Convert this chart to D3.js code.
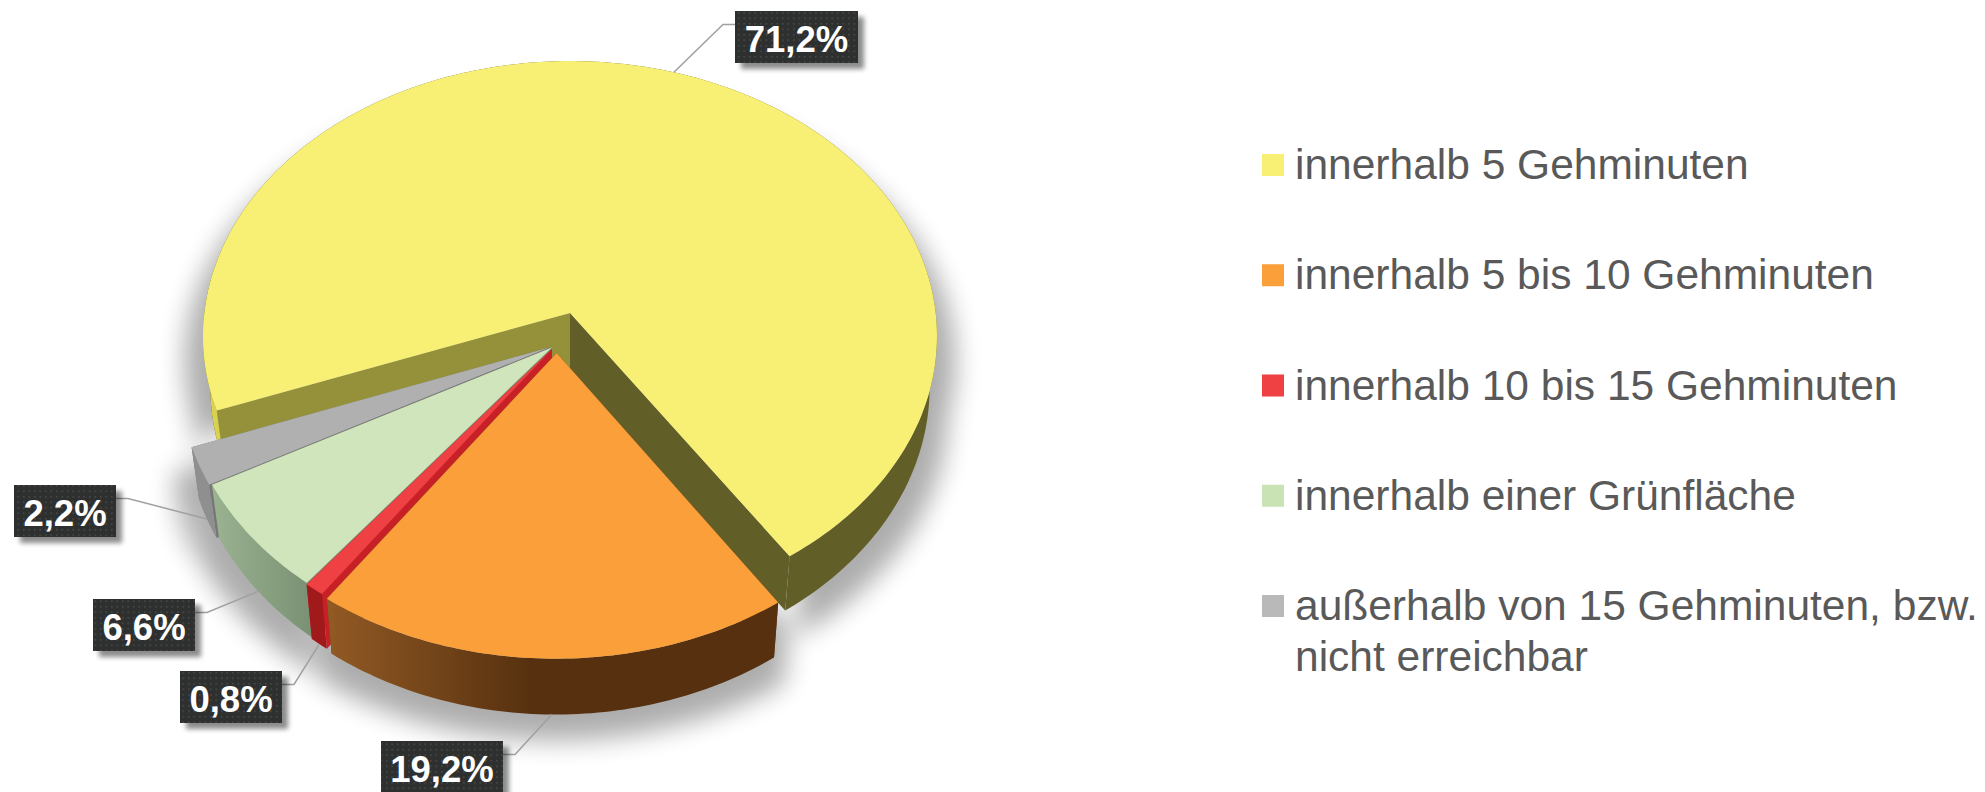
<!DOCTYPE html>
<html>
<head>
<meta charset="utf-8">
<style>
    body { margin: 0; background: #fff; }
    svg { display: block; }
    text { font-family: "Liberation Sans", Arial, sans-serif; }
</style>
<script src="https://cdn.jsdelivr.net/npm/d3@7"></script>
</head>
<body>
<svg id="svg1" width="1985" height="792"></svg>
<script>
// 3d pie of walking distance shares, yellow slice is pulled out

let categories = ["innerhalb 5 Gehminuten", "innerhalb 5 bis 10 Gehminuten", "innerhalb 10 bis 15 Gehminuten",
    "innerhalb einer Grünfläche", "außerhalb von 15 Gehminuten, bzw.|nicht erreichbar"];
let values = [71.2, 19.2, 0.8, 6.6, 2.2];
let valueLabels = ["71,2%", "19,2%", "0,8%", "6,6%", "2,2%"];

let topColors = ["#f8f075", "#fa9f39", "#ef4043", "#d0e5bb", "#b0b0b0"];
let legendColors = ["#f8f075", "#fa9f39", "#ef4043", "#c9e3b5", "#b9b9b9"];
let wallColors = ["#615e28", "url(#orangeWall)", "#a01a1c", "url(#greenWall)", "#8f8f8f"];
let cutColors = ["#615e28", "#6a3d12", "#c72026", "#7b9174", "#777777"];

// how far each slice sits from the yellow slice tip, in pie radius units
let explodeU = [0, -0.036, -0.049, -0.049, -0.056];
let explodeV = [0, -0.145, -0.13, -0.125, -0.125];

// top left of the label boxes
let boxX = [735, 381, 180, 93, 14];
let boxY = [11, 741, 671, 599, 485];

let svg1 = d3.select("#svg1");

// perspective settings, picked to fit the ellipse of the picture
let cx = 570, cy = 313;
let radiusX = 365.7, radiusY = 273;
let tilt = 0.0836;
let depth = 50.5;
let bottomShrink = 0.98;

// point on the unit disc to screen, level 0 is top face and 1 is bottom face
function project(u, v, level)
{
    let d = 1 + tilt * v;
    let sx = 1 - (1 - bottomShrink) * level;
    return [cx + sx * radiusX * u / d, cy - radiusY * v / d + level * depth / d];
}

function rimPoint(slice, angle, level)
{
    return project(Math.sin(angle) + explodeU[slice], Math.cos(angle) + explodeV[slice], level);
}

function tipPoint(slice, level)
{
    return project(explodeU[slice], explodeV[slice], level);
}

let firstAngle = 249.7;
let pieLayout = d3.pie().sort(null)
    .startAngle(firstAngle * Math.PI / 180)
    .endAngle((firstAngle + 360) * Math.PI / 180);
let arcs = pieLayout(values);

let line = d3.line();

function rim(i, level, reverse)
{
    let a = arcs[i];
    let n = Math.max(4, Math.round((a.endAngle - a.startAngle) * 60));
    let pts = d3.range(n + 1).map(function (k) {
        return rimPoint(i, a.startAngle + (a.endAngle - a.startAngle) * k / n, level);
    });
    return reverse ? pts.reverse() : pts;
}

function topPath(i) { return line([tipPoint(i, 0)].concat(rim(i, 0, false))) + "Z"; }
function wallPath(i) { return line(rim(i, 0, false).concat(rim(i, 1, true))) + "Z"; }
function cutPath(i, angle)
{
    // yellow tip goes a bit deeper so no white shows next to the orange edge
    let tipLevel = i == 0 ? 1.25 : 1;
    return line([tipPoint(i, 0), rimPoint(i, angle, 0), rimPoint(i, angle, 1), tipPoint(i, tipLevel)]) + "Z";
}

// defs
let defs = svg1.append("defs");

let pieShadow = defs.append("filter").attr("id", "pieShadow")
    .attr("filterUnits", "userSpaceOnUse")
    .attr("x", 0).attr("y", 0).attr("width", 1200).attr("height", 792);
pieShadow.append("feGaussianBlur").attr("stdDeviation", 13);

let boxShadow = defs.append("filter").attr("id", "boxShadow")
    .attr("x", "-20%").attr("y", "-20%").attr("width", "140%").attr("height", "140%");
boxShadow.append("feGaussianBlur").attr("stdDeviation", 2.5);

let dots = defs.append("pattern").attr("id", "dots")
    .attr("patternUnits", "userSpaceOnUse").attr("width", 5.5).attr("height", 5.5);
dots.append("rect").attr("width", 5.5).attr("height", 5.5).attr("fill", "#2e2f2f");
dots.append("rect").attr("x", 1).attr("y", 1).attr("width", 1.5).attr("height", 1.5).attr("fill", "#4c4d4d");

function wallGradient(id, from, to, stop)
{
    let g = defs.append("linearGradient").attr("id", id);
    g.append("stop").attr("offset", "0%").attr("stop-color", from);
    g.append("stop").attr("offset", stop).attr("stop-color", to);
}
wallGradient("orangeWall", "#925a24", "#57310f", "45%");
wallGradient("greenWall", "#9ab391", "#7a9073", "100%");

// soft shadow under the whole pie, a bit wider than the pie and moved down
let shadowGroup = svg1.append("g")
    .attr("filter", "url(#pieShadow)")
    .attr("opacity", 0.32);
let shadowShape = shadowGroup.append("g")
    .attr("transform", "translate(" + cx + ",26) scale(1.05,1) translate(" + (-cx) + ",0)");
arcs.forEach(function (a, i) {
    shadowShape.append("path").attr("d", topPath(i)).attr("fill", "#000");
    shadowShape.append("path").attr("d", wallPath(i)).attr("fill", "#000");
});

// yellow goes first, the rest are stacked in front of it, orange on top
let drawOrder = [0, 4, 3, 2, 1];

drawOrder.forEach(function (i) {
    let a = arcs[i];
    let g = svg1.append("g");
    // yellow has two different cut faces
    g.append("path").attr("d", cutPath(i, a.startAngle)).attr("fill", i == 0 ? "#95913a" : cutColors[i]);
    g.append("path").attr("d", cutPath(i, a.endAngle)).attr("fill", cutColors[i]);
    g.append("path").attr("d", wallPath(i)).attr("fill", wallColors[i]);
    if(i == 0)
    {
        // left bit of the yellow rim is lit
        let leftBit = [];
        let n = 12;
        for(let k = 0; k <= n; k++)
        {
            leftBit.push(rimPoint(0, a.startAngle + 0.35 * k / n, 0));
        }
        for(let k = n; k >= 0; k--)
        {
            leftBit.push(rimPoint(0, a.startAngle + 0.35 * k / n, 1));
        }
        g.append("path").attr("d", line(leftBit) + "Z").attr("fill", "#d8d24e");
    }
    g.append("path").attr("d", topPath(i)).attr("fill", topColors[i]);
});

// leader lines start at the middle of the slice, on the rim
let leaderSide = [-1, 1, 1, 1, 1];
let boxW = [123, 122, 102, 102, 102];
let boxH = 52;

let labels = svg1.append("g");
arcs.forEach(function (a, i) {
    let mid = (a.startAngle + a.endAngle) / 2;
    let end = rimPoint(i, mid, i == 0 ? 0 : 1);
    let edgeX = leaderSide[i] < 0 ? boxX[i] : boxX[i] + boxW[i];
    let elbowY = boxY[i] + 13.5;
    let elbowX = edgeX + leaderSide[i] * 12;

    labels.append("path")
        .attr("d", line([[edgeX, elbowY], [elbowX, elbowY], end]))
        .attr("fill", "none")
        .attr("stroke", "#a0a0a0")
        .attr("stroke-width", 1.5);

    labels.append("rect")
        .attr("x", boxX[i] + 6).attr("y", boxY[i] + 6)
        .attr("width", boxW[i]).attr("height", boxH)
        .attr("fill", "#000").attr("opacity", 0.45)
        .attr("filter", "url(#boxShadow)");
    labels.append("rect")
        .attr("x", boxX[i]).attr("y", boxY[i])
        .attr("width", boxW[i]).attr("height", boxH)
        .attr("fill", "url(#dots)");
    labels.append("text")
        .attr("x", boxX[i] + boxW[i] / 2)
        .attr("y", boxY[i] + 41)
        .attr("text-anchor", "middle")
        .attr("font-size", 36.5)
        .attr("font-weight", "bold")
        .attr("fill", "#fff")
        .text(valueLabels[i]);
});

// legend
let legendY = d3.scalePoint().domain(categories).range([179, 620]);
let legend = svg1.append("g");
categories.forEach(function (name, i) {
    let y = legendY(name);
    legend.append("rect")
        .attr("x", 1262).attr("y", y - 25)
        .attr("width", 22).attr("height", 22)
        .attr("fill", legendColors[i]);
    name.split("|").forEach(function (part, k) {
        legend.append("text")
            .attr("x", 1295)
            .attr("y", y + k * 50.5)
            .attr("font-size", 42.5)
            .attr("fill", "#595959")
            .text(part);
    });
});
</script>
</body>
</html>
